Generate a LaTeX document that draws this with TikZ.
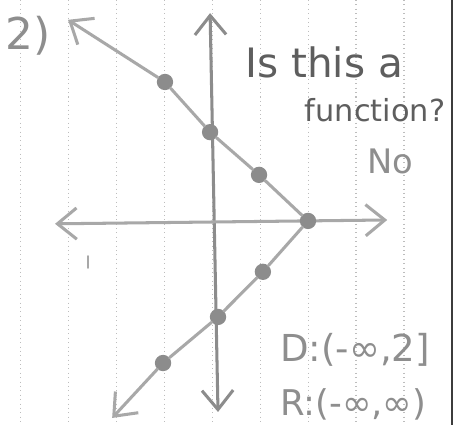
\documentclass[tikz,border=0pt]{standalone}
\usepackage{fontspec}
\setmainfont{DejaVu Sans}
\usetikzlibrary{arrows.meta}
\definecolor{pgray}{HTML}{A8A8A8}
\definecolor{pdark}{HTML}{8C8C8C}
\definecolor{pnote}{HTML}{5E5E5E}
\definecolor{plite}{HTML}{8E8E8E}
\definecolor{prule}{HTML}{BDBDBD}
\definecolor{pmargin}{HTML}{3C3C3C}
\tikzset{
  rayln/.style={draw=pgray, line width=1.8pt, line cap=round},
  axln/.style={draw=pdark, line width=1.8pt, line cap=round},
  barb/.style={-{Straight Barb[length=4mm, width=6.5mm]}},
  barbs/.style={{Straight Barb[length=4mm, width=6.5mm]}-{Straight Barb[length=4mm, width=6.5mm]}},
  dotpt/.style={circle, fill=pdark, minimum size=3.4mm, inner sep=0pt},
  notetx/.style={text=pnote, inner sep=0pt},
  rulegrid/.style={draw=prule, line width=0.6pt, dotted},
  marginln/.style={draw=pmargin, line width=1.5pt},
}
\begin{document}
\begin{tikzpicture}
  \useasboundingbox[fill=white] (-4.417,-4.271) rectangle (5.0625,4.583);
  % notebook paper
  \foreach \x in {-4,...,4}
    \draw[rulegrid] (\x,4.583) -- (\x,-4.271);
  \draw[marginln] (5.0,4.583) -- (5.0,-4.271);

  % axes
  \coordinate (ytop) at (-0.04,4.31);
  \coordinate (ybot) at (0.125,-4.0);
  \coordinate (xlft) at (-3.27,-0.08);
  \coordinate (xrgt) at (3.65,0);
  \draw[axln, barbs] (ybot) -- (ytop);
  \draw[rayln, barbs] (xlft) -- (xrgt);

  % plotted points
  \foreach \n/\x/\y in {u1/-0.98/2.875, u2/-0.04/1.83, u3/0.98/0.94, vtx/2.0/-0.02,
                        l1/1.06/-1.08, l2/0.125/-2.02, l3/-1.02/-2.98}
    \node[dotpt] (\n) at (\x,\y) {};

  \coordinate (tipU) at (-3.0,4.17);
  \coordinate (tipL) at (-2.08,-4.125);
  \draw[rayln, barb] (vtx) -- (u3) -- (u2) -- (u1) -- (tipU);
  \draw[rayln, barb] (vtx) -- (l1) -- (l2) -- (l3) -- (tipL);

  % stray pencil mark
  \draw[rayln, line width=1pt] (-2.58,-0.75) -- (-2.58,-1.0);

  % notes
  \node[notetx, text=plite, font=\fontsize{26}{28}\selectfont] (num) at (-3.83,3.83) {2)};
  \node[notetx, anchor=west, font=\fontsize{24}{26}\selectfont] (q1) at (0.69,3.29) {Is this a};
  \node[notetx, anchor=west, font=\fontsize{18}{20}\selectfont] (q2) at (1.93,2.29) {function?};
  \node[notetx, text=plite, font=\fontsize{20}{22}\selectfont] (ans) at (3.71,1.21) {No};
  \node[notetx, text=plite, font=\fontsize{22}{24}\selectfont] (dom) at (2.98,-2.71) {D:(-∞,2]};
  \node[notetx, text=plite, font=\fontsize{21}{23}\selectfont] (rng) at (2.94,-3.84) {R:(-∞,∞)};
\end{tikzpicture}
\end{document}
